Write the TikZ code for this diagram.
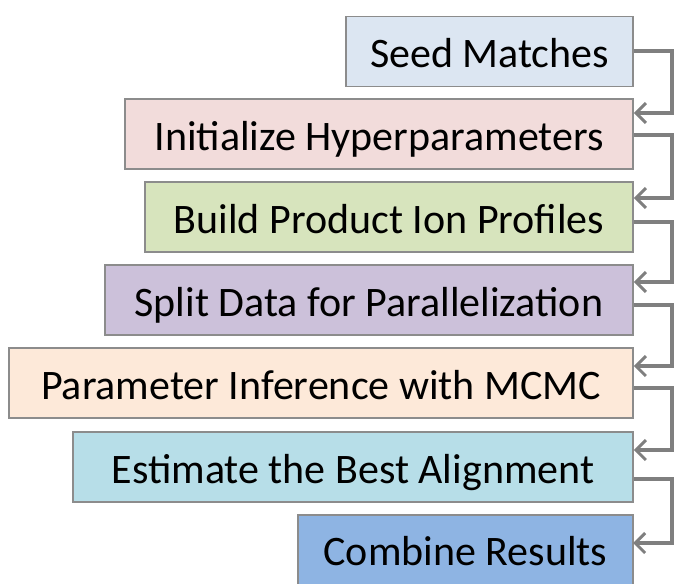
\documentclass[tikz,border=0pt]{standalone}
\usepackage{fontspec}
\setmainfont{Carlito}
\usetikzlibrary{arrows.meta}
\definecolor{cSeed}{HTML}{DCE6F2}
\definecolor{cInit}{HTML}{F2DCDB}
\definecolor{cBuild}{HTML}{D7E4BD}
\definecolor{cSplit}{HTML}{CCC1DA}
\definecolor{cParam}{HTML}{FDE9D9}
\definecolor{cEst}{HTML}{B7DEE8}
\definecolor{cComb}{HTML}{8EB4E3}
\definecolor{cBorder}{HTML}{8C8C8C}
\definecolor{cLine}{HTML}{7F7F7F}
\tikzset{
  boxtext/.style={font=\fontsize{42}{48}\selectfont, text=black, text height=40pt, text depth=7pt},
  stepbox/.style={boxtext, draw=cBorder, line width=1.5pt, inner sep=0pt, minimum height=70pt},
  flow/.style={draw=cLine, line width=4pt},
  flowarrow/.style={flow, -{Straight Barb[length=10pt,width=20pt,line width=3pt]}}
}
\begin{document}
\begin{tikzpicture}[x=1pt,y=-1pt]
\useasboundingbox (0,0) rectangle (676,583);
\clip (0,0) rectangle (676,583);
\node[stepbox, fill=cSeed, minimum width=287pt] (seed) at (489.5,51.5) {Seed Matches};
\node[stepbox, fill=cInit, minimum width=508pt] (init) at (379,134) {Initialize Hyperparameters};
\node[stepbox, fill=cBuild, minimum width=488pt] (build) at (389,217) {Build Product Ion Profiles};
\node[stepbox, fill=cSplit, minimum width=528pt] (split) at (369,300) {Split Data for Parallelization};
\node[stepbox, fill=cParam, minimum width=624pt] (param) at (321,383) {Parameter Inference with MCMC};
\node[stepbox, fill=cEst, minimum width=560pt] (est) at (353,467) {Estimate the Best Alignment};
\node[stepbox, fill=cComb, minimum width=335pt, minimum height=100pt] (comb) at (465.5,565) {};
\node[boxtext, inner sep=0pt] (combtext) at (465.5,549) {Combine Results};
\coordinate (cx) at (672,0);
\coordinate (s1) at ([yshift=0pt]seed.east);
\coordinate (i0) at ([yshift=21pt]init.east);
\coordinate (i1) at ([yshift=-1pt]init.east);
\coordinate (b0) at ([yshift=19pt]build.east);
\coordinate (b1) at ([yshift=-5pt]build.east);
\coordinate (p0) at ([yshift=18pt]split.east);
\coordinate (p1) at ([yshift=-5pt]split.east);
\coordinate (q0) at ([yshift=17pt]param.east);
\coordinate (q1) at ([yshift=-5pt]param.east);
\coordinate (e0) at ([yshift=17pt]est.east);
\coordinate (e1) at ([yshift=-12pt]est.east);
\coordinate (c0) at (633,543);
\draw[flowarrow] (s1) -| (cx |- i0) -- (i0);
\draw[flowarrow] (i1) -| (cx |- b0) -- (b0);
\draw[flowarrow] (b1) -| (cx |- p0) -- (p0);
\draw[flowarrow] (p1) -| (cx |- q0) -- (q0);
\draw[flowarrow] (q1) -| (cx |- e0) -- (e0);
\draw[flowarrow] (e1) -| (cx |- c0) -- (c0);
\end{tikzpicture}
\end{document}
